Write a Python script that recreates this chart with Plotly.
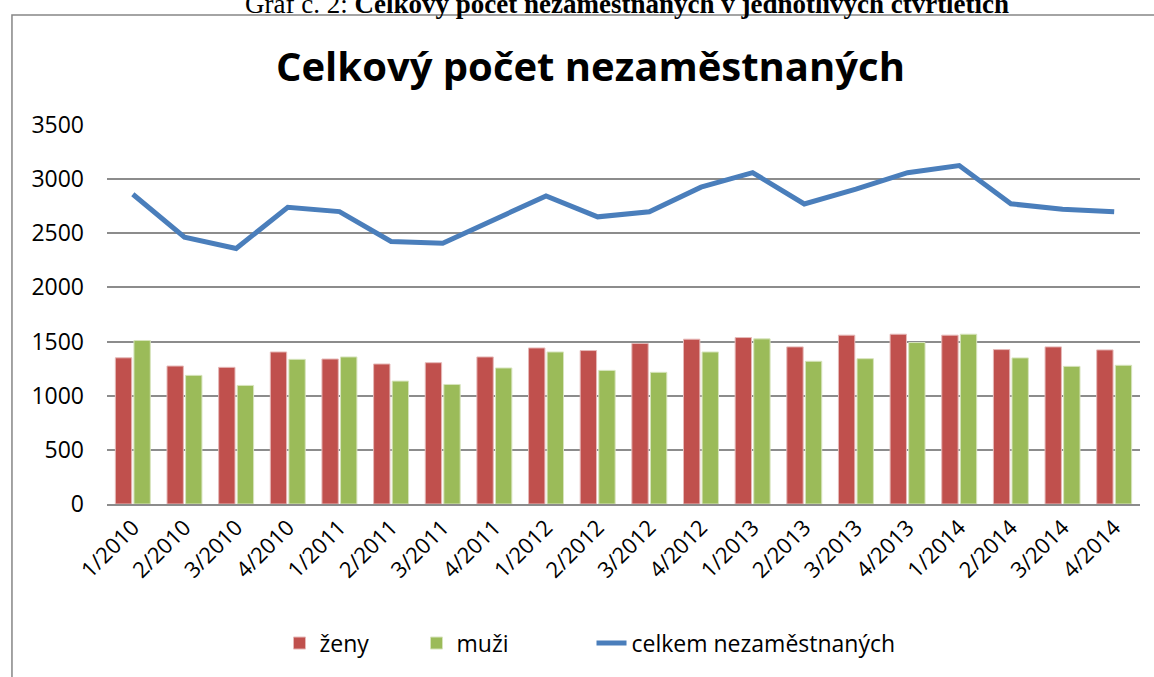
import plotly.graph_objects as go

quarters = ["1/2010", "2/2010", "3/2010", "4/2010",
            "1/2011", "2/2011", "3/2011", "4/2011",
            "1/2012", "2/2012", "3/2012", "4/2012",
            "1/2013", "2/2013", "3/2013", "4/2013",
            "1/2014", "2/2014", "3/2014", "4/2014"]
zeny = [1350, 1274, 1262, 1404, 1339, 1293, 1305, 1358, 1441, 1417,
        1482, 1522, 1537, 1451, 1559, 1568, 1559, 1426, 1451, 1423]
muzi = [1510, 1188, 1095, 1336, 1358, 1135, 1104, 1256, 1404, 1234,
        1216, 1404, 1525, 1318, 1342, 1491, 1568, 1349, 1271, 1281]
celkem = [2860, 2465, 2360, 2740, 2700, 2425, 2408, 2622, 2845, 2652,
          2698, 2926, 3060, 2771, 2907, 3060, 3125, 2772, 2722, 2700]
y_ticks = [0, 500, 1000, 1500, 2000, 2500, 3000, 3500]

font = "Open Sans"

fig = go.Figure()
fig.add_trace(go.Bar(x=quarters, y=zeny, name="ženy", legendwidth=92,
                     marker=dict(color="#C0504D", line=dict(color="#E6B9B8", width=1))))
fig.add_trace(go.Bar(x=quarters, y=muzi, name="muži", legendwidth=130,
                     marker=dict(color="#9BBB59", line=dict(color="#D7E4BD", width=1))))
fig.add_trace(go.Scatter(x=quarters, y=celkem, name="celkem nezaměstnaných", mode="lines",
                         legendwidth=300, line=dict(color="#4A7EBB", width=5)))

fig.update_layout(
    width=1154, height=677,
    margin=dict(l=107, r=14, t=125, b=173, autoexpand=False),
    paper_bgcolor="white", plot_bgcolor="white",
    barmode="group", bargap=0.28, bargroupgap=0.12,
    font=dict(family=font, size=20, color="black"),
    showlegend=True,
    legend=dict(orientation="h", x=0.167, xanchor="left", y=-0.367, yanchor="middle",
                font=dict(family=font, size=23), traceorder="normal"),
    xaxis=dict(tickangle=-45, showgrid=False, showline=True, linecolor="#8C8C8C",
               linewidth=2, ticks="", tickfont=dict(size=22)),
    yaxis=dict(range=[0, 3500], tickvals=y_ticks, showgrid=True, gridcolor="#8C8C8C",
               gridwidth=1.5, zeroline=False, ticks="", ticklabelstandoff=22,
               tickfont=dict(size=23)),
)

# outer frame of the chart object
fig.add_shape(type="rect", xref="paper", yref="paper", x0=-0.092, x1=1.03, y0=-0.6, y1=1.290,
              line=dict(color="#868686", width=1.5), fillcolor="rgba(0,0,0,0)", layer="below")

fig.add_annotation(text="<b>Celkový počet nezaměstnaných</b>", xref="paper", yref="paper",
                   x=0.4676, y=1.158, yanchor="middle", showarrow=False,
                   font=dict(family=font, size=40, color="black"))

# caption above the frame, mostly cut off by the page edge
fig.add_annotation(text="Graf č. 2: <b>Celkový počet nezaměstnaných v jednotlivých čtvrtletích</b>",
                   xref="paper", yref="paper", x=0.503, y=1.318, yanchor="middle", showarrow=False,
                   font=dict(family="Liberation Serif", size=27, color="black"))

# page margin off so the figure sits at the window corner
fig.write_html("out.html", config={"displayModeBar": False},
               post_script="document.body.style.margin='0';document.body.style.overflow='hidden';")
